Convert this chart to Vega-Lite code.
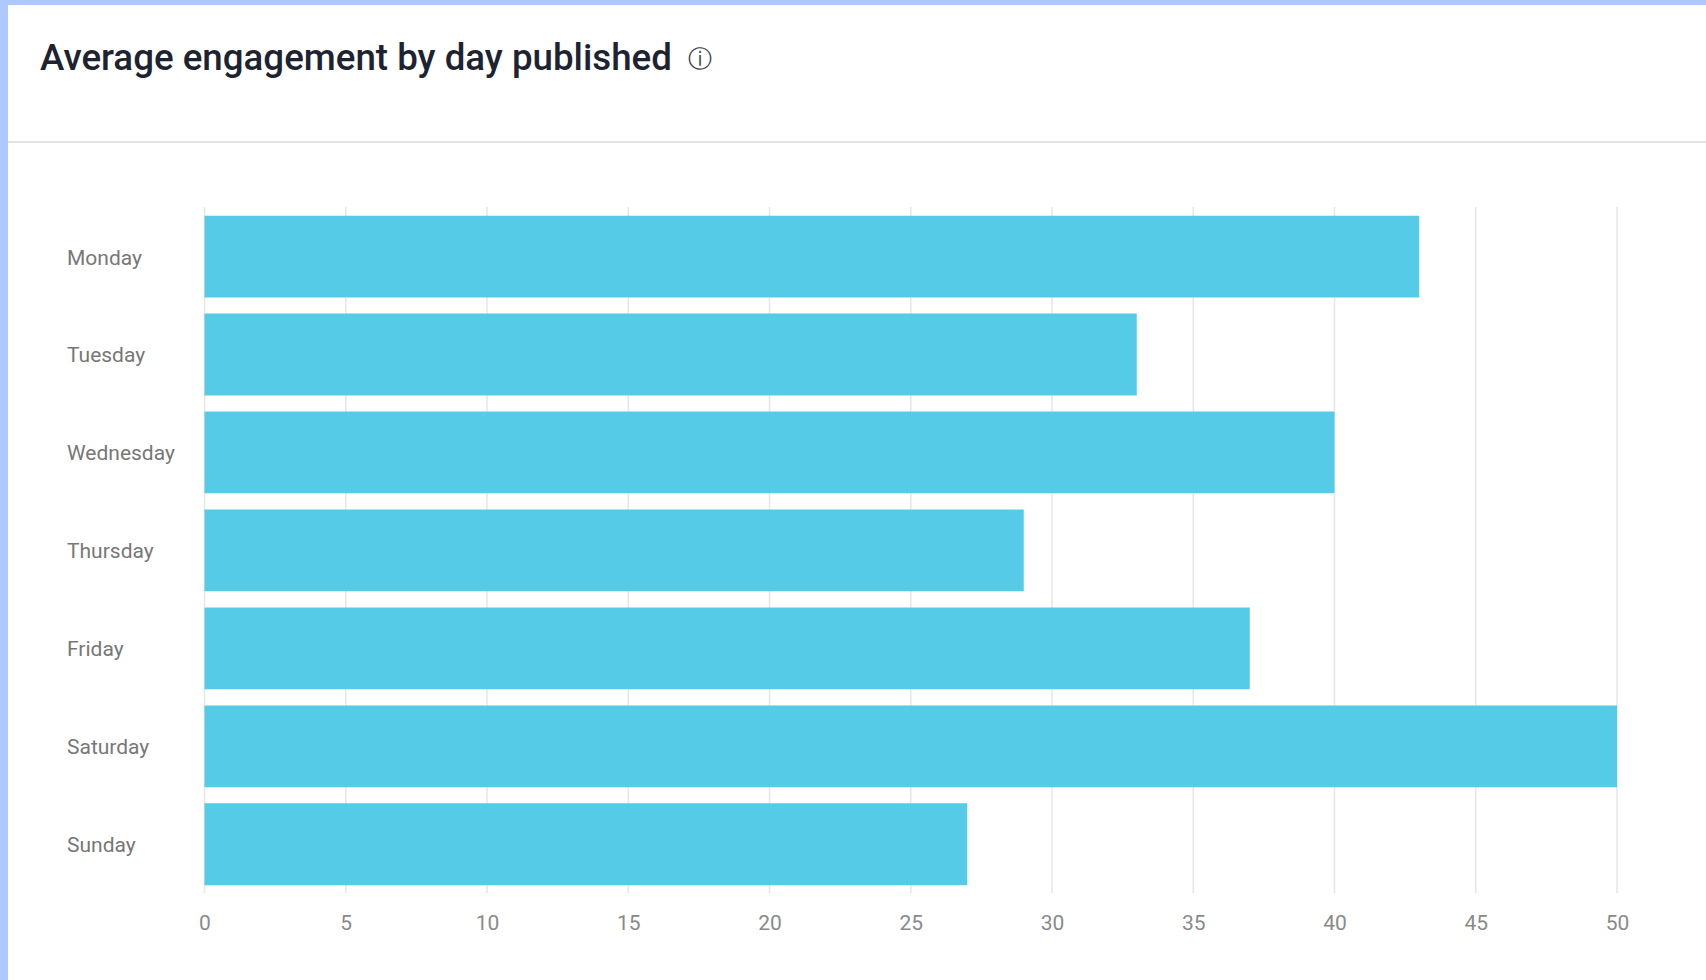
{
"$schema":"https://vega.github.io/schema/vega-lite/v6.json",
"width":1698,"height":975,
"autosize":{"type":"none"},
"padding":{"left":8,"top":5,"right":0,"bottom":0},
"background":"#adc9fe",
"view":{"fill":"#ffffff","stroke":null},
"title":{"text":"Average engagement by day published","anchor":"start","frame":"group","orient":"top","offset":-73,"dx":32,"font":"Roboto","fontSize":36.7,"fontWeight":500,"color":"#1d2330"},
"resolve":{"scale":{"y":"independent"}},
"layer":[
{"data":{"values":[{"tick":0},{"tick":5},{"tick":10},{"tick":15},{"tick":20},{"tick":25},{"tick":30},{"tick":35},{"tick":40},{"tick":45},{"tick":50}]},
 "mark":{"type":"rule","color":"#e6e6e6","strokeWidth":1.5},
 "encoding":{
  "x":{"field":"tick","type":"quantitative","scale":{"domain":[-6.956,53.15],"nice":false,"zero":false},
   "axis":{"title":null,"values":[0,5,10,15,20,25,30,35,40,45,50],"grid":false,"ticks":false,"domain":false,"offset":-88,"labelPadding":20,"labelFont":"Roboto","labelFontSize":21,"labelColor":"#8a8a8a","labelFlush":false}},
  "y":{"datum":0,"type":"quantitative","axis":null,"scale":{"domain":[0,7],"range":[202,888],"zero":false,"nice":false}},
  "y2":{"datum":7}}},
{"data":{"values":[{"day":"Monday","engagement":43},{"day":"Tuesday","engagement":33},{"day":"Wednesday","engagement":40},{"day":"Thursday","engagement":29},{"day":"Friday","engagement":37},{"day":"Saturday","engagement":50},{"day":"Sunday","engagement":27}]},
 "mark":{"type":"bar","color":"#56cbe7"},
 "encoding":{
  "x":{"field":"engagement","type":"quantitative","scale":{"domain":[-6.956,53.15],"nice":false,"zero":false}},
  "y":{"field":"day","type":"nominal","sort":null,
   "scale":{"domain":["Monday","Tuesday","Wednesday","Thursday","Friday","Saturday","Sunday"],"range":[202.8,888],"paddingInner":0.165,"paddingOuter":0.08},
   "axis":{"title":null,"ticks":false,"domain":false,"grid":false,"offset":-196.5,"labelPadding":138,"labelAlign":"left","labelOffset":2,"labelFont":"Roboto","labelFontSize":21,"labelColor":"#777777"}}}},
{"data":{"values":[{"from":-6.956,"to":53.15,"at":-0.662}]},
 "mark":{"type":"rule","color":"#d9d9d9","strokeWidth":1.5},
 "encoding":{
  "x":{"field":"from","type":"quantitative","scale":{"domain":[-6.956,53.15],"nice":false,"zero":false}},
  "x2":{"field":"to"},
  "y":{"field":"at","type":"quantitative","axis":null,"scale":{"domain":[0,7],"range":[202,888],"zero":false,"nice":false}}}},
{"data":{"values":[{"at":17.54,"row":-1.495,"icon":"ⓘ"}]},
 "mark":{"type":"text","font":"DejaVu Sans","fontSize":24,"color":"#3a3f48","align":"center","baseline":"middle"},
 "encoding":{
  "x":{"field":"at","type":"quantitative","scale":{"domain":[-6.956,53.15],"nice":false,"zero":false}},
  "y":{"field":"row","type":"quantitative","axis":null,"scale":{"domain":[0,7],"range":[202,888],"zero":false,"nice":false}},
  "text":{"field":"icon"}}}
]
}
